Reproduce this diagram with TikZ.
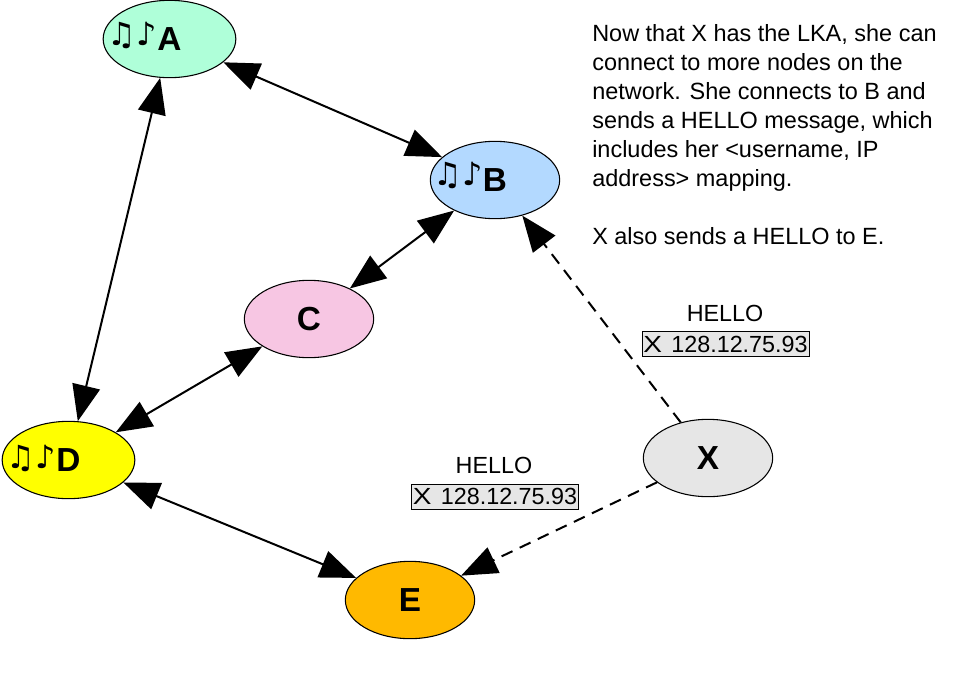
\documentclass[tikz,border=0pt]{standalone}
\usepackage{fontspec}
\setmainfont{Liberation Sans}
\newfontfamily\notefont{DejaVu Sans}
\usetikzlibrary{shapes.geometric, arrows.meta, positioning, calc}
\definecolor{peerA}{HTML}{AFFFD9}
\definecolor{peerB}{HTML}{B3D9FF}
\definecolor{peerC}{HTML}{F7C6E3}
\definecolor{peerD}{HTML}{FFFF00}
\definecolor{peerE}{HTML}{FFB900}
\definecolor{peerX}{HTML}{E6E6E6}
\newcommand{\wideX}{\scalebox{1.2}[1]{X}}
\tikzset{
    peer/.style={draw, ellipse, line width=0.8pt, minimum width=97pt, minimum height=58pt, inner sep=0pt, font=\fontsize{25}{25}\selectfont\bfseries},
    tune/.style={inner sep=0pt, font=\notefont\fontsize{24}{24}\selectfont\bfseries},
    link/.style={line width=1.5pt, {Triangle[length=27pt,width=21pt]}-{Triangle[length=27pt,width=21pt]}},
    hello/.style={line width=1.5pt, dash pattern=on 9pt off 6pt, -{Triangle[length=27pt,width=21pt]}},
    caption/.style={inner sep=0pt, font=\fontsize{17.5}{17.5}\selectfont},
    record/.style={draw, line width=0.4pt, fill=peerX, minimum width=125.5pt, minimum height=18.5pt, inner sep=0pt, font=\fontsize{17.5}{17.5}\selectfont},
}
\begin{document}
\begin{tikzpicture}[x=0.75pt, y=-0.75pt]
    \useasboundingbox (0,0) rectangle (963,675);

    % Peers
    \node[peer, fill=peerA, minimum width=99.5pt] (A) at (169.5,39) {A};
    \node[peer, fill=peerB] (B) at (495,180) {B};
    \node[peer, fill=peerC] (C) at (309,319) {C};
    \node[peer, fill=peerD, minimum width=99.5pt] (D) at (68.5,460) {D};
    \node[peer, fill=peerE] (E) at (410,600) {E};
    \node[peer, fill=peerX] (X) at (708,458) {X};

    % Music notes
    \node[tune] (tuneA) at ($(A)+(-37,-4)$) {♫♪};
    \node[tune] (tuneB) at ($(B)+(-37,-5)$) {♫♪};
    \node[tune] (tuneD) at ($(D)+(-37,-2)$) {♫♪};

    % Links
    \draw[link] (A) -- (B);
    \draw[link] (A) -- (D);
    \draw[link] (B) -- (C);
    \draw[link] (C) -- (D);
    \draw[link] (D) -- (E);

    % HELLO messages
    \draw[hello] (X) -- (B);
    \draw[hello] (X) -- (E);
    \node[caption] (helloB) at (725,313) {HELLO};
    \node[record] (recordB) at (725.5,344) {\wideX\hspace{0.4em}128.12.75.93};
    \node[caption] (helloE) at (494,465) {HELLO};
    \node[record] (recordE) at (495,496.5) {\wideX\hspace{0.4em}128.12.75.93};

    \node[anchor=north west, inner sep=0pt, align=left, font=\fontsize{17.6}{21.75}\selectfont] (story) at (592,24) {Now that X has the LKA, she can\\connect to more nodes on the\\network. She connects to B and\\sends a HELLO message, which\\includes her <username, IP\\address> mapping.\\[21.75pt]X also sends a HELLO to E.};
\end{tikzpicture}
\end{document}
